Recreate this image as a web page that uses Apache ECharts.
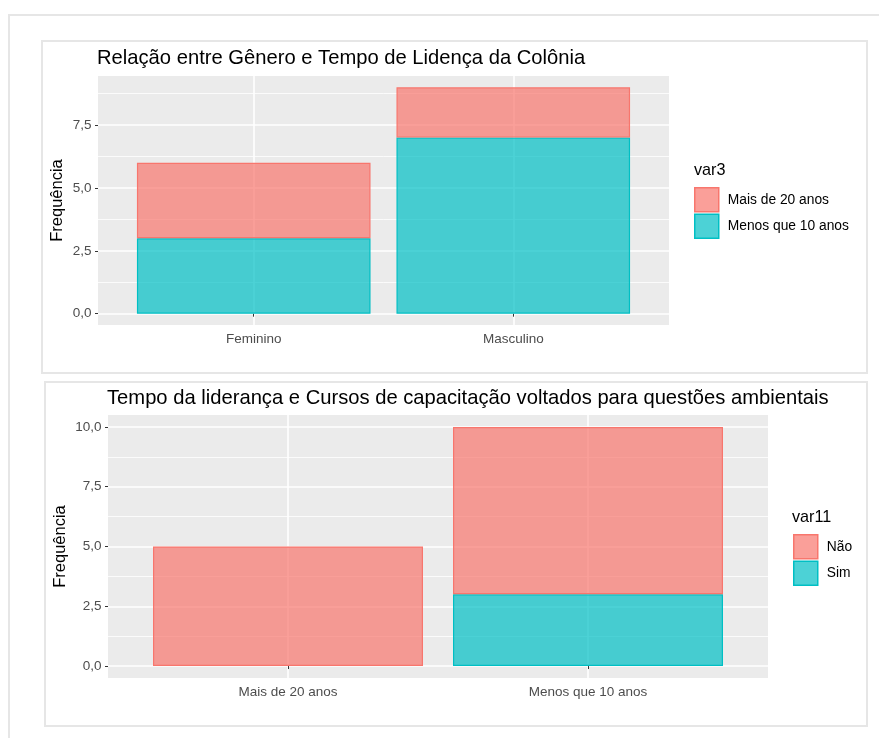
<!DOCTYPE html>
<html>
<head>
<meta charset="utf-8">
<script src="https://cdn.jsdelivr.net/npm/echarts@6/dist/echarts.min.js"></script>
<style>
  html, body { margin: 0; padding: 0; background: #ffffff; }
  #chart { width: 879px; height: 738px; }
</style>
</head>
<body>
<div id="chart"></div>
<script>
// Painel superior: gênero x tempo de liderança (var3)
const generoCategorias = ['Feminino', 'Masculino'];
const generoMais20 = [3, 2];
const generoMenos10 = [3, 7];
const generoTicks = [0, 2.5, 5, 7.5];
const generoMinor = [1.25, 3.75, 6.25, 8.75];

// Painel inferior: tempo da liderança x cursos de capacitação (var11)
const tempoCategorias = ['Mais de 20 anos', 'Menos que 10 anos'];
const cursoNao = [5, 7];
const cursoSim = [0, 3];
const cursoTicks = [0, 2.5, 5, 7.5, 10];
const cursoMinor = [1.25, 3.75, 6.25, 8.75];

const titulo1 = 'Relação entre Gênero e Tempo de Lidença da Colônia';
const titulo2 = 'Tempo da liderança e Cursos de capacitação voltados para questões ambientais';
const legenda1 = 'var3';
const legenda2 = 'var11';
const eixoY = 'Frequência';

const ROSA = '#F8766D', ROSA_FILL = 'rgba(248,118,109,0.7)';
const CIANO = '#00BFC4', CIANO_FILL = 'rgba(0,191,196,0.7)';
const FONTE = '"Liberation Sans", Arial, Helvetica, sans-serif';
const CINZA_TXT = '#4d4d4d';

const fmtNum = v => v.toFixed(1).replace('.', ',');
// contagens nulas não geram barra
const valores = vals => vals.map(v => (v === 0 ? '-' : v));

// Painéis: área cinza (eixos de referência) e faixa das categorias (barras)
const paineis = [
  { left: 98, top: 76, width: 571, height: 249, nameGap: 32 },
  { left: 108, top: 415, width: 660, height: 263, nameGap: 39 }
];
const EXPANSAO = 0.6; // margem discreta do ggplot: 0,6 categoria em cada lado

function montarPainel(p, idx, cats, ticks, minor, totais) {
  const topo = Math.max.apply(null, totais);
  const pad = topo * 0.05;
  const n = cats.length;
  const span = n - 1 + 2 * EXPANSAO;
  const unidade = p.width / span;
  const pos = cats.map((c, i) => i + 1);
  const gBase = idx * 2, gBar = idx * 2 + 1;

  const grids = [
    { left: p.left, top: p.top, width: p.width, height: p.height, show: true,
      backgroundColor: '#EBEBEB', borderWidth: 0 },
    { left: p.left + unidade * (EXPANSAO - 0.5), top: p.top, width: unidade * n,
      height: p.height, show: false }
  ];

  const xAxis = [
    { type: 'value', gridIndex: gBase, min: 1 - EXPANSAO, max: n + EXPANSAO,
      axisLine: { show: false },
      axisTick: { show: true, customValues: pos, length: 3, lineStyle: { color: '#333333', width: 1 } },
      axisLabel: { customValues: pos, formatter: v => cats[Math.round(v) - 1] || '',
        color: CINZA_TXT, fontSize: 13.5, fontFamily: FONTE, margin: 7 },
      splitLine: { show: true, lineStyle: { color: '#ffffff', width: 1.6 } } },
    { type: 'category', gridIndex: gBar, data: cats, boundaryGap: true,
      axisLine: { show: false }, axisTick: { show: false }, axisLabel: { show: false },
      splitLine: { show: false } }
  ];

  const yAxis = [
    { type: 'value', gridIndex: gBase, min: -pad, max: topo + pad,
      axisLine: { show: false },
      axisTick: { show: true, customValues: ticks, length: 3, lineStyle: { color: '#333333', width: 1 } },
      axisLabel: { customValues: ticks, formatter: fmtNum, color: CINZA_TXT,
        fontSize: 13.5, fontFamily: FONTE, margin: 6.5 },
      splitLine: { show: true, lineStyle: { color: '#ffffff', width: 1.6 } },
      name: eixoY, nameLocation: 'middle', nameRotate: 90, nameGap: p.nameGap,
      nameMoveOverlap: false,
      nameTextStyle: { color: '#000000', fontSize: 16.5, fontFamily: FONTE } },
    { type: 'value', gridIndex: gBase, min: -pad, max: topo + pad,
      axisLine: { show: false },
      axisTick: { show: false, customValues: minor },
      axisLabel: { show: false, customValues: minor },
      splitLine: { show: true, lineStyle: { color: '#ffffff', width: 0.8 } } },
    { type: 'value', gridIndex: gBar, min: -pad, max: topo + pad,
      axisLine: { show: false }, axisTick: { show: false }, axisLabel: { show: false },
      splitLine: { show: false } }
  ];
  return { grids, xAxis, yAxis, xBar: idx * 2 + 1, yBar: idx * 3 + 2 };
}

function barra(nome, xi, yi, pilha, vals, fill, borda) {
  return {
    name: nome, type: 'bar', xAxisIndex: xi, yAxisIndex: yi, stack: pilha,
    barWidth: '90%', data: valores(vals),
    itemStyle: { color: fill, borderColor: borda, borderWidth: 1.2 },
    emphasis: { disabled: true }, animation: false
  };
}

function itemLegenda(nome, fill, borda) {
  return { name: nome, icon: 'rect', itemStyle: { color: fill, borderColor: borda, borderWidth: 1.5 } };
}

const totais1 = generoMais20.map((v, i) => v + generoMenos10[i]);
const totais2 = cursoNao.map((v, i) => v + cursoSim[i]);
const p1 = montarPainel(paineis[0], 0, generoCategorias, generoTicks, generoMinor, totais1);
const p2 = montarPainel(paineis[1], 1, tempoCategorias, cursoTicks, cursoMinor, totais2);

const legendaBase = {
  orient: 'vertical', itemWidth: 24, itemHeight: 24, itemGap: 1, padding: 0,
  selectedMode: false,
  textStyle: { color: '#000000', fontSize: 13.8, fontFamily: FONTE, padding: [0, 0, 0, 4] }
};
const tituloTxt = { fontSize: 20.2, fontWeight: 'normal', color: '#000000', fontFamily: FONTE };
const legTituloTxt = { fontSize: 16.2, fontWeight: 'normal', color: '#000000', fontFamily: FONTE };

const chart = echarts.init(document.getElementById('chart'), null, { renderer: 'canvas' });

chart.setOption({
  backgroundColor: '#ffffff',
  animation: false,
  textStyle: { fontFamily: FONTE },
  title: [
    { text: titulo1, left: 97, top: 48, padding: 0, textStyle: tituloTxt },
    { text: titulo2, left: 107, top: 388, padding: 0, textStyle: tituloTxt },
    { text: legenda1, left: 694, top: 163, padding: 0, textStyle: legTituloTxt },
    { text: legenda2, left: 792, top: 510, padding: 0, textStyle: legTituloTxt }
  ],
  legend: [
    Object.assign({}, legendaBase, {
      left: 694, top: 187,
      data: [itemLegenda('Mais de 20 anos', ROSA_FILL, ROSA), itemLegenda('Menos que 10 anos', CIANO_FILL, CIANO)]
    }),
    Object.assign({}, legendaBase, {
      left: 793, top: 534,
      data: [itemLegenda('Não', ROSA_FILL, ROSA), itemLegenda('Sim', CIANO_FILL, CIANO)]
    })
  ],
  grid: p1.grids.concat(p2.grids),
  xAxis: p1.xAxis.concat(p2.xAxis),
  yAxis: p1.yAxis.concat(p2.yAxis),
  series: [
    barra('Menos que 10 anos', p1.xBar, p1.yBar, 'g', generoMenos10, CIANO_FILL, CIANO),
    barra('Mais de 20 anos', p1.xBar, p1.yBar, 'g', generoMais20, ROSA_FILL, ROSA),
    barra('Sim', p2.xBar, p2.yBar, 'c', cursoSim, CIANO_FILL, CIANO),
    barra('Não', p2.xBar, p2.yBar, 'c', cursoNao, ROSA_FILL, ROSA)
  ],
  graphic: [
    // moldura externa da página
    { type: 'polyline', silent: true, z: -10,
      shape: { points: [[9, 738], [9, 15], [879, 15]] },
      style: { stroke: '#e6e6e6', lineWidth: 2, fill: null } },
    // molduras de cada gráfico
    { type: 'rect', silent: true, z: -10,
      shape: { x: 42, y: 41, width: 825, height: 332 },
      style: { stroke: '#e6e6e6', lineWidth: 2, fill: '#ffffff' } },
    { type: 'rect', silent: true, z: -10,
      shape: { x: 45, y: 382, width: 822, height: 344 },
      style: { stroke: '#e6e6e6', lineWidth: 2, fill: '#ffffff' } }
  ]
});
</script>
</body>
</html>
